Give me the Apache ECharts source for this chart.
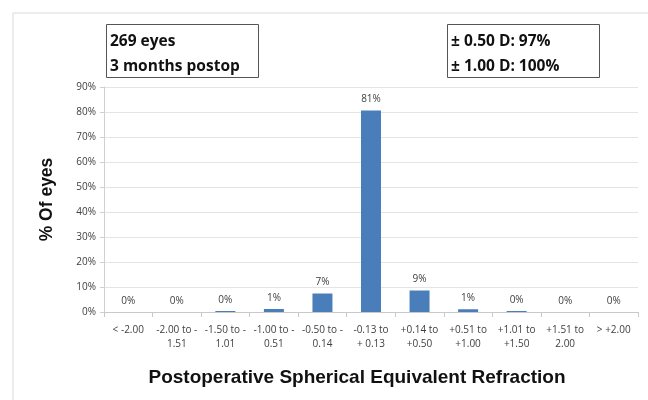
<!DOCTYPE html>
<html lang="en" style="height: 100%">
   <head>
      <meta charset="utf-8">
   </head>
   <body style="height: 100%; margin: 0; background: #fff">
      <div id="container" style="width: 648px; height: 400px"></div>
      <script type="text/javascript" src="https://fastly.jsdelivr.net/npm/echarts@6.0.0/dist/echarts.min.js"></script>
      <script type="text/javascript">
var categories = ['< -2.00', '-2.00 to -\n1.51', '-1.50 to -\n1.01', '-1.00 to -\n0.51', '-0.50 to -\n0.14',
  '-0.13 to\n+ 0.13', '+0.14 to\n+0.50', '+0.51 to\n+1.00', '+1.01 to\n+1.50', '+1.51 to\n2.00', '> +2.00'];
var eyesPct = [0, 0, 0.4, 1.2, 7.4, 80.6, 8.6, 1.1, 0.4, 0, 0];
var yTicks = [0, 10, 20, 30, 40, 50, 60, 70, 80, 90];
var boxLeft = ['269 eyes', '3 months postop'];
var boxRight = ['± 0.50 D: 97%', '± 1.00 D: 100%'];

var dom = document.getElementById('container');
var myChart = echarts.init(dom, null, {
  renderer: 'canvas'
});
var textFont = '"Liberation Sans", Arial, sans-serif';
var smallFont = '"Open Sans", sans-serif';
var option = {
  animation: false,
  grid: {
    left: 104,
    right: 10,
    top: 87,
    bottom: 88
  },
  xAxis: {
    type: 'category',
    data: categories,
    name: 'Postoperative Spherical Equivalent Refraction',
    nameLocation: 'middle',
    nameGap: 56,
    nameTextStyle: {
      fontFamily: textFont,
      fontWeight: 'bold',
      fontSize: 19,
      color: '#111',
      padding: [0, 28, 0, 0]
    },
    axisLine: { lineStyle: { color: '#c8c8c8' } },
    axisTick: { show: true, length: 5, lineStyle: { color: '#c8c8c8' } },
    axisLabel: {
      interval: 0,
      margin: 11,
      fontFamily: smallFont,
      fontSize: 10,
      lineHeight: 14,
      color: '#404040'
    }
  },
  yAxis: {
    type: 'value',
    min: yTicks[0],
    max: yTicks[yTicks.length - 1],
    interval: 10,
    name: '% Of eyes',
    nameLocation: 'middle',
    nameGap: 48,
    nameTextStyle: {
      fontFamily: textFont,
      fontWeight: 'bold',
      fontSize: 17.5,
      color: '#111'
    },
    axisLine: { show: true, lineStyle: { color: '#d0d0d0' } },
    axisTick: { show: true, length: 4, lineStyle: { color: '#d0d0d0' } },
    splitLine: { lineStyle: { color: '#e4e4e4' } },
    axisLabel: {
      margin: 8,
      fontFamily: smallFont,
      fontSize: 10,
      color: '#404040',
      formatter: '{value}%'
    }
  },
  series: [{
    type: 'bar',
    data: eyesPct,
    barWidth: 20,
    itemStyle: { color: '#4a7ebb' },
    label: {
      show: true,
      position: 'top',
      distance: 6,
      fontFamily: smallFont,
      fontSize: 10,
      color: '#404040',
      formatter: function (p) { return Math.round(p.value) + '%'; }
    }
  }],
  graphic: [
    {
      type: 'polyline',
      shape: { points: [[13, 400], [13, 13], [648, 13]] },
      style: { stroke: '#d9d9d9', lineWidth: 1, fill: null }
    },
    {
      type: 'rect',
      shape: { x: 106.5, y: 24.5, width: 152, height: 53 },
      style: { stroke: '#555', lineWidth: 1, fill: '#fff' }
    },
    {
      type: 'text',
      left: 110,
      top: 29,
      style: { text: boxLeft.join('\n'), fontFamily: smallFont, fontWeight: 'bold', fontSize: 15.5, lineHeight: 25, fill: '#111' }
    },
    {
      type: 'rect',
      shape: { x: 447.5, y: 24.5, width: 152, height: 53 },
      style: { stroke: '#555', lineWidth: 1, fill: '#fff' }
    },
    {
      type: 'text',
      left: 451,
      top: 29,
      style: { text: boxRight.join('\n'), fontFamily: smallFont, fontWeight: 'bold', fontSize: 15.5, lineHeight: 25, fill: '#111' }
    }
  ]
};
myChart.setOption(option);
window.addEventListener('resize', myChart.resize);
      </script>
   </body>
</html>
